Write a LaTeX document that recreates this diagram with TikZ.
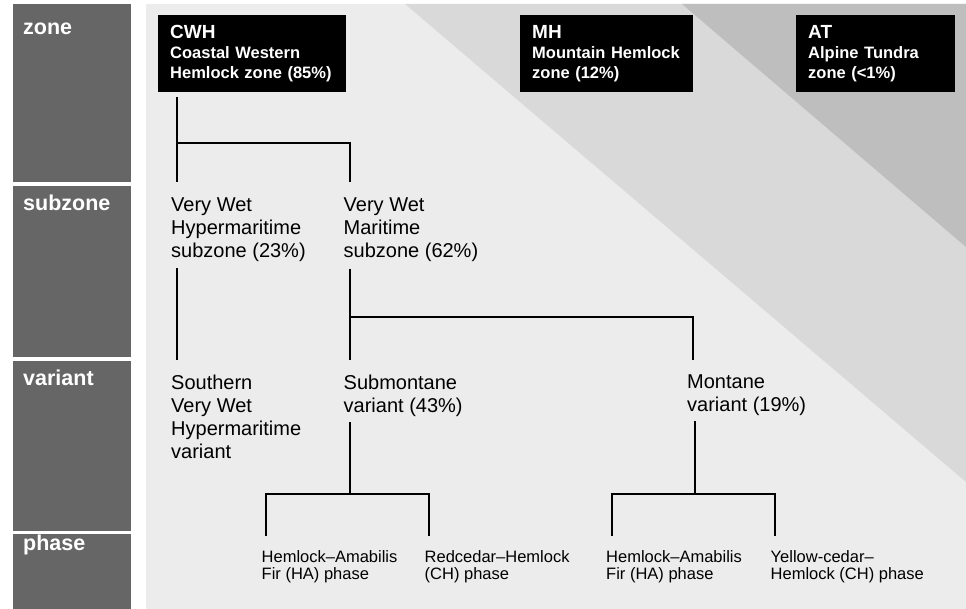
\documentclass[tikz,border=0pt]{standalone}
\usepackage{xcolor}
\usepackage{fontspec}
\setmainfont{Liberation Sans}
\usepackage{tikz}
\usetikzlibrary{calc}
\definecolor{panelColor}{RGB}{236, 236, 236}
\definecolor{midBandColor}{RGB}{217, 217, 217}
\definecolor{highBandColor}{RGB}{190, 190, 190}
\definecolor{levelColor}{RGB}{102, 102, 102}

\tikzset{
    levelLabel/.style={anchor=base west, inner sep=0pt, text=white,
        font=\fontsize{21.5}{24}\selectfont\bfseries},
    zoneBox/.style={anchor=north west, fill=black, text=white, align=left,
        inner xsep=12pt, inner ysep=10pt, minimum height=77pt,
        font=\fontsize{16.5}{20}\selectfont\bfseries},
    unitText/.style={anchor=north west, inner sep=0pt, align=left,
        font=\fontsize{20}{23}\selectfont},
    phaseText/.style={anchor=north west, inner sep=0pt, align=left,
        font=\fontsize{16.5}{16.5}\selectfont},
    branch/.style={line width=2pt, black}
}

\begin{document}
\begin{tikzpicture}[x=1pt, y=-1pt]
            \useasboundingbox (0,0) rectangle (966,609);

            % Level bars on the left
            \fill[levelColor] (13,4) rectangle (131,182);
            \fill[levelColor] (13,186) rectangle (131,357);
            \fill[levelColor] (13,361) rectangle (131,531);
            \fill[levelColor] (13,534) rectangle (131,609);
            \node[levelLabel] (lvzone) at (23,35) {zone};
            \node[levelLabel] (lvsubzone) at (23,211) {subzone};
            \node[levelLabel] (lvvariant) at (23,385) {variant};
            \node[levelLabel] (lvphase) at (23,550) {phase};

            % Panel with elevation bands
            \fill[panelColor] (146,4) rectangle (966,609);
            \fill[midBandColor] (405,4) -- (966,4) -- (966,482) -- cycle;
            \fill[highBandColor] (682,4) -- (966,4) -- (966,247) -- cycle;

            % Zone boxes
            \node[zoneBox, text width=164pt] (cwh) at (158,15) {
                {\fontsize{19}{20}\selectfont CWH}\\
                Coastal Western\\
                Hemlock zone (85\%)
            };
            \node[zoneBox, text width=149pt] (mh) at (520,15) {
                {\fontsize{19}{20}\selectfont MH}\\
                Mountain Hemlock\\
                zone (12\%)
            };
            \node[zoneBox, text width=135pt] (at) at (796,15) {
                {\fontsize{19}{20}\selectfont AT}\\
                Alpine Tundra\\
                zone (<1\%)
            };

            % Subzones
            \node[unitText] (vwh) at (171,197.5) {Very Wet\\Hypermaritime\\subzone (23\%)};
            \node[unitText] (vwm) at (343.5,197.5) {Very Wet\\Maritime\\subzone (62\%)};

            % Variants
            \node[unitText] (svwh) at (171,375) {Southern\\Very Wet\\Hypermaritime\\variant};
            \node[unitText] (submont) at (343.5,375) {Submontane\\variant (43\%)};
            \node[unitText] (mont) at (687,375) {Montane\\variant (19\%)};

            % Phases
            \node[phaseText] (ha1) at (261.5,550.7) {Hemlock–Amabilis\\Fir (HA) phase};
            \node[phaseText] (ch1) at (424.5,550.7) {Redcedar–Hemlock\\(CH) phase};
            \node[phaseText] (ha2) at (606,550.7) {Hemlock–Amabilis\\Fir (HA) phase};
            \node[phaseText] (ych) at (770.5,550.7) {Yellow-cedar–\\Hemlock (CH) phase};

            % Connector ends
            \coordinate (cwh-out) at ([shift={(19,5)}]cwh.south west);
            \coordinate (vwh-in) at ([shift={(6,-15.5)}]vwh.north west);
            \coordinate (vwm-in) at ([shift={(6,-15.5)}]vwm.north west);
            \coordinate (vwh-out) at ([shift={(6,6)}]vwh.south west);
            \coordinate (vwm-out) at ([shift={(6,7)}]vwm.south west);
            \coordinate (svwh-in) at ([shift={(6,-15)}]svwh.north west);
            \coordinate (submont-in) at ([shift={(6,-15)}]submont.north west);
            \coordinate (mont-in) at ([shift={(5.5,-15)}]mont.north west);
            \coordinate (submont-out) at ([shift={(6,5)}]submont.south west);
            \coordinate (mont-out) at ([shift={(8,5)}]mont.south west);
            \coordinate (ha1-in) at ([shift={(4.5,-15)}]ha1.north west);
            \coordinate (ch1-in) at ([shift={(4.5,-15)}]ch1.north west);
            \coordinate (ha2-in) at ([shift={(5.5,-15)}]ha2.north west);
            \coordinate (ych-in) at ([shift={(4.5,-15)}]ych.north west);

            % Forks
            \coordinate (zfork) at (177,143);
            \coordinate (vfork) at (349.5,317);
            \coordinate (sfork) at (349.5,494);
            \coordinate (mfork) at (695,494);

            % Tree lines
            \draw[branch] (cwh-out) -- (vwh-in);
            \draw[branch] (zfork) -| (vwm-in);
            \draw[branch] (vwh-out) -- (svwh-in);
            \draw[branch] (vwm-out) -- (submont-in);
            \draw[branch] (vfork) -| (mont-in);
            \draw[branch] (submont-out) -- (sfork);
            \draw[branch] (ha1-in) |- (sfork) -| (ch1-in);
            \draw[branch] (mont-out) -- (mfork);
            \draw[branch] (ha2-in) |- (mfork) -| (ych-in);
        \end{tikzpicture}
\end{document}
